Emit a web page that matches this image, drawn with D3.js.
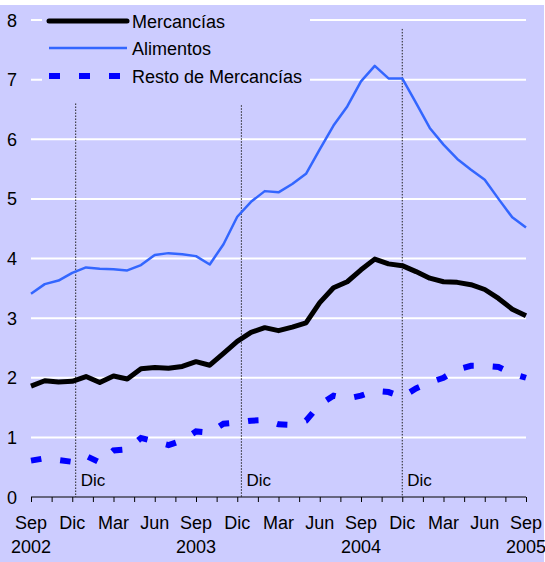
<!DOCTYPE html>
<html>
<head>
<meta charset="utf-8">
<script src="https://cdn.jsdelivr.net/npm/d3@7"></script>
<style>
  body { margin: 0; background: #fff; }
  text { font-family: "Liberation Sans", Arial, sans-serif; }
</style>
</head>
<body>
<div id="chart"></div>
<script>
// months Sep 2002 .. Sep 2005
const months = [
  "Sep 2002", "Oct 2002", "Nov 2002", "Dic 2002", "Ene 2003", "Feb 2003", "Mar 2003", "Abr 2003", "May 2003",
  "Jun 2003", "Jul 2003", "Ago 2003", "Sep 2003", "Oct 2003", "Nov 2003", "Dic 2003", "Ene 2004", "Feb 2004",
  "Mar 2004", "Abr 2004", "May 2004", "Jun 2004", "Jul 2004", "Ago 2004", "Sep 2004", "Oct 2004", "Nov 2004",
  "Dic 2004", "Ene 2005", "Feb 2005", "Mar 2005", "Abr 2005", "May 2005", "Jun 2005", "Jul 2005", "Ago 2005",
  "Sep 2005"
];

const mercancias = [
  1.86, 1.95, 1.93, 1.94, 2.02, 1.92, 2.03, 1.98, 2.15, 2.17, 2.16, 2.19, 2.27, 2.21, 2.41, 2.61, 2.76, 2.84,
  2.79, 2.85, 2.92, 3.26, 3.51, 3.61, 3.81, 3.99, 3.91, 3.88, 3.78, 3.67, 3.61, 3.60, 3.56, 3.48, 3.33, 3.15,
  3.04
];

const alimentos = [
  3.41, 3.57, 3.63, 3.76, 3.85, 3.83, 3.82, 3.80, 3.89, 4.06, 4.09, 4.07, 4.04, 3.90, 4.24, 4.70, 4.95, 5.13,
  5.11, 5.25, 5.42, 5.83, 6.23, 6.55, 6.97, 7.23, 7.02, 7.02, 6.61, 6.19, 5.91, 5.67, 5.49, 5.32, 5.00, 4.69,
  4.52
];

const resto = [
  0.61, 0.65, 0.62, 0.59, 0.69, 0.58, 0.78, 0.80, 0.99, 0.93, 0.87, 0.95, 1.10, 1.08, 1.23, 1.25, 1.28, 1.29,
  1.22, 1.21, 1.28, 1.55, 1.70, 1.65, 1.70, 1.78, 1.76, 1.68, 1.82, 1.92, 2.00, 2.14, 2.20, 2.20, 2.18, 2.07,
  2.00
];

const tickLabels = ["Sep", "Dic", "Mar", "Jun", "Sep", "Dic", "Mar", "Jun", "Sep", "Dic", "Mar", "Jun", "Sep"];
const yearLabels = ["2002", "2003", "2004", "2005"];
const yTicks = [0, 1, 2, 3, 4, 5, 6, 7, 8];

// "Dic" marker lines (month position, top value)
const decMarks = [3.25, 15.3, 27];
const decTops = [6.6, 6.57, 7.85];

const width = 545, height = 562;
const bg = "#ccccff";

const svg = d3.select("#chart").append("svg")
  .attr("width", width)
  .attr("height", height);

svg.append("rect")
  .attr("x", 0).attr("y", 5)
  .attr("width", 544).attr("height", height - 5)
  .attr("fill", bg);

const x = d3.scaleLinear().domain([0, months.length - 1]).range([31, 526]);
const y = d3.scaleLinear().domain([0, 8]).range([497, 20]);

// gridlines
svg.append("g")
  .selectAll("line")
  .data(yTicks.filter(d => d > 0))
  .join("line")
  .attr("x1", x(0)).attr("x2", x(36))
  .attr("y1", d => y(d)).attr("y2", d => y(d))
  .attr("stroke", "#fff")
  .attr("stroke-width", 2);

// y labels
svg.append("g")
  .selectAll("text")
  .data(yTicks)
  .join("text")
  .attr("x", 17)
  .attr("y", d => y(d) + 6.5)
  .attr("text-anchor", "end")
  .attr("font-size", 18)
  .attr("fill", "#000")
  .text(d => d);

// x axis with minor ticks every 1.5 months
const xAxis = d3.axisBottom(x)
  .tickValues(d3.range(0, 36.01, 1.5))
  .tickSize(5)
  .tickFormat("");
const ax = svg.append("g")
  .attr("transform", `translate(0,${y(0)})`)
  .call(xAxis);
ax.select(".domain").attr("stroke", "#000").attr("d", `M${x(0)},0H${x(36)}`);
ax.selectAll(".tick line").attr("stroke", "#000");

svg.append("g")
  .selectAll("text")
  .data(tickLabels)
  .join("text")
  .attr("x", (d, i) => x(i * 3))
  .attr("y", 529)
  .attr("text-anchor", "middle")
  .attr("font-size", 18)
  .text(d => d);

svg.append("g")
  .selectAll("text")
  .data(yearLabels)
  .join("text")
  .attr("x", (d, i) => x(i * 12))
  .attr("y", 553)
  .attr("text-anchor", "middle")
  .attr("font-size", 18)
  .text(d => d);

// Dic dotted lines
decMarks.forEach((m, i) => {
  svg.append("line")
    .attr("x1", x(m)).attr("x2", x(m))
    .attr("y1", y(decTops[i])).attr("y2", y(0))
    .attr("stroke", "#222")
    .attr("stroke-width", 1)
    .attr("stroke-dasharray", "1.5,1.5");
  svg.append("text")
    .attr("x", x(m) + 5)
    .attr("y", 486)
    .attr("font-size", 17)
    .text("Dic");
});

const line = d3.line()
  .x((d, i) => x(i))
  .y(d => y(d));

svg.append("path")
  .datum(resto)
  .attr("d", line)
  .attr("fill", "none")
  .attr("stroke", "#0000ff")
  .attr("stroke-width", 6)
  .attr("stroke-dasharray", "10.5,19");

svg.append("path")
  .datum(alimentos)
  .attr("d", line)
  .attr("fill", "none")
  .attr("stroke", "#3366ff")
  .attr("stroke-width", 2.5)
  .attr("stroke-linejoin", "round");

svg.append("path")
  .datum(mercancias)
  .attr("d", line)
  .attr("fill", "none")
  .attr("stroke", "#000")
  .attr("stroke-width", 5)
  .attr("stroke-linejoin", "round");

// legend
svg.append("rect")
  .attr("x", 42).attr("y", 6)
  .attr("width", 268).attr("height", 84)
  .attr("fill", bg);

const legend = [
  { name: "Mercancías", color: "#000", w: 5, dash: null, cap: "round" },
  { name: "Alimentos", color: "#3366ff", w: 2.5, dash: null, cap: "butt" },
  { name: "Resto de Mercancías", color: "#0000ff", w: 6, dash: "11,19", cap: "butt" }
];
const legendY = [21, 48, 76];

legend.forEach((s, i) => {
  svg.append("line")
    .attr("x1", 49).attr("x2", s.dash ? 121 : 127)
    .attr("y1", legendY[i]).attr("y2", legendY[i])
    .attr("stroke", s.color)
    .attr("stroke-width", s.w)
    .attr("stroke-linecap", s.cap)
    .attr("stroke-dasharray", s.dash);
  svg.append("text")
    .attr("x", 132)
    .attr("y", legendY[i] + 6.5)
    .attr("font-size", 18)
    .text(s.name);
});
</script>
</body>
</html>
